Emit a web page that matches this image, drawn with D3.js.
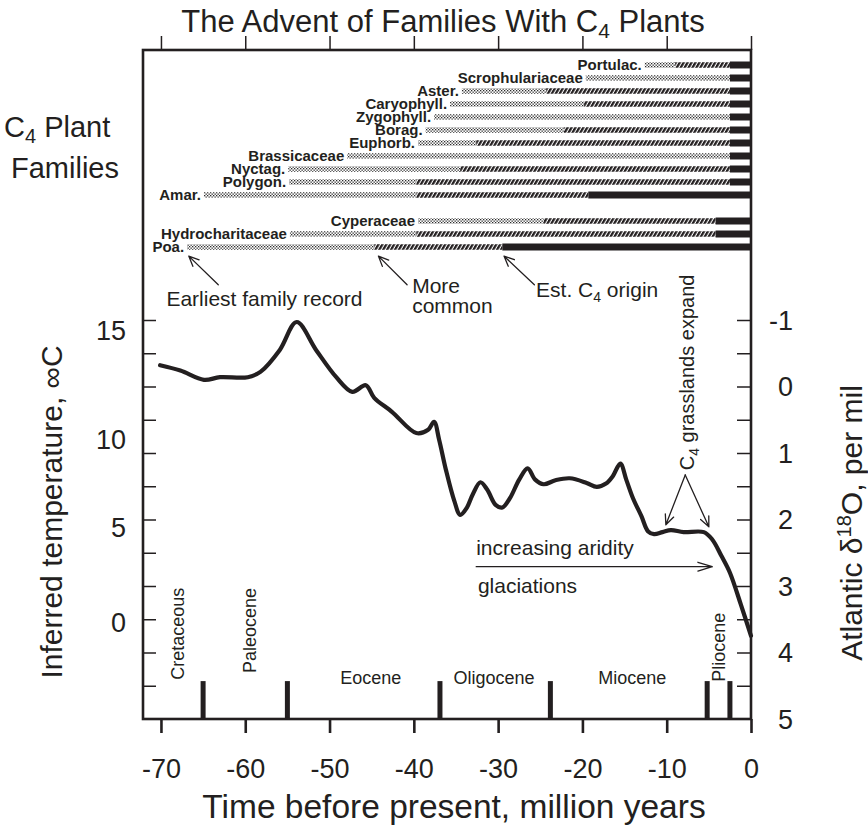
<!DOCTYPE html>
<html><head><meta charset="utf-8">
<script src="https://cdn.jsdelivr.net/npm/d3@7"></script>
<style>
body{margin:0;background:#fff}
svg{display:block}
text{font-family:"Liberation Sans",Arial,Helvetica,sans-serif;fill:#231f20}
</style>
</head><body>
<svg id="chart" width="868" height="825"></svg>
<script>
// ---------------- data ----------------
const families = ["Portulac.","Scrophulariaceae","Aster.","Caryophyll.","Zygophyll.","Borag.","Euphorb.","Brassicaceae","Nyctag.","Polygon.","Amar.","Cyperaceae","Hydrocharitaceae","Poa."];
const familyRow = [0,1,2,3,4,5,6,7,8,9,10,12,13,14];
const earliestRecord = [-12.6,-19.6,-34.3,-35.7,-37.6,-38.6,-39.5,-47.9,-54.9,-54.8,-64.9,-39.5,-54.7,-66.9];
const moreCommon = [-9.0,null,-24.3,-19.8,null,-22.2,-32.6,null,-34.5,-39.7,-39.7,-24.6,-39.7,-44.7];
const c4Origin = [-2.5,-2.5,-2.5,-2.5,-2.5,-2.5,-2.5,-2.5,-2.5,-2.5,-19.3,-4.2,-4.2,-29.5];

const timeMyr = [-70.1,-67.7,-64.9,-63.0,-59.7,-58.2,-55.9,-53.9,-51.6,-49.2,-47.3,-45.7,-44.7,-42.6,-39.7,-38.3,-37.6,-37.0,-36.2,-35.2,-34.5,-33.7,-33.0,-32.1,-31.3,-30.3,-29.5,-28.6,-27.5,-26.5,-25.6,-24.6,-23.2,-21.5,-19.5,-18.3,-17.2,-16.4,-15.5,-14.8,-14.0,-13.0,-12.2,-11.5,-10.5,-9.5,-8.0,-5.6,-4.6,-3.5,-2.5,-1.2,0];
const delta18O = [-0.32,-0.24,-0.10,-0.14,-0.14,-0.22,-0.55,-0.97,-0.55,-0.14,0.08,-0.02,0.17,0.38,0.70,0.65,0.53,0.80,1.25,1.72,1.93,1.82,1.62,1.44,1.55,1.78,1.82,1.68,1.40,1.23,1.40,1.47,1.41,1.38,1.45,1.51,1.46,1.35,1.16,1.40,1.68,1.95,2.18,2.22,2.19,2.16,2.19,2.19,2.30,2.55,2.80,3.28,3.75];

const xTicks = [-70,-60,-50,-40,-30,-20,-10,0];
const deltaTicks = [-1,0,1,2,3,4,5];
const deltaMinorTicks = [-1,-0.5,0,0.5,1,1.5,2,2.5,3,3.5,4,4.5];
const tempLabels = [15,10,5,0];
const tempLabelDelta = [-0.85,0.80,2.11,3.54];

const epochBounds = [-65,-55,-36.9,-23.8,-5.2,-2.5];
const epochNames = ["Cretaceous","Paleocene","Eocene","Oligocene","Miocene","Pliocene"];
const epochLabelT = [-67.3,-58.7,-45.1,-30.5,-14.1,-3.1];
const epochLabelD = [4.41,4.31,4.47,4.47,4.47,4.44];
const epochVertical = [true,true,false,false,false,true];

// ---------------- layout ----------------
const ink = "#231f20";
const pL = 143, pR = 751, pT = 50, pB = 719;
const svg = d3.select("#chart");

const x = d3.scaleLinear().domain([-72.13, 0]).range([pL, pR]);
const y = d3.scaleLinear().domain([-1, 5]).range([320, pB]);
const yRow = d3.scaleLinear().domain([0, 14]).range([65, 247]);

// patterns
const defs = svg.append("defs");
const pd = defs.append("pattern").attr("id","dots").attr("patternUnits","userSpaceOnUse")
  .attr("width",3).attr("height",3);
pd.append("rect").attr("width",3).attr("height",3).attr("fill","#fff");
pd.append("rect").attr("x",0).attr("y",0).attr("width",1.3).attr("height",1.3).attr("fill","#2a2a2a");
pd.append("rect").attr("x",1.5).attr("y",1.5).attr("width",1.3).attr("height",1.3).attr("fill","#2a2a2a");
const ph = defs.append("pattern").attr("id","hatch").attr("patternUnits","userSpaceOnUse")
  .attr("width",3.4).attr("height",6).attr("patternTransform","rotate(30)");
ph.append("rect").attr("width",3.4).attr("height",6).attr("fill","#fff");
ph.append("rect").attr("width",2.3).attr("height",6).attr("fill",ink);

// title
const title = svg.append("text").attr("x", (pL+pR)/2 - 4).attr("y", 32)
  .attr("text-anchor","middle").attr("font-size",31);
title.append("tspan").text("The Advent of Families With C");
title.append("tspan").attr("font-size",21).attr("dy",6).text("4");
title.append("tspan").attr("dy",-6).text(" Plants");

// C4 Plant Families
const cpf = svg.append("text").attr("x",4).attr("y",137).attr("font-size",29);
cpf.append("tspan").text("C");
cpf.append("tspan").attr("font-size",20).attr("dy",6).text("4");
cpf.append("tspan").attr("dy",-6).text(" Plant");
svg.append("text").attr("x",11).attr("y",178).attr("font-size",29).text("Families");

// ---------------- family bars ----------------
const segs = [];
families.forEach((f,i) => {
  const dEnd = moreCommon[i] != null ? moreCommon[i] : c4Origin[i];
  segs.push({row: familyRow[i], a: earliestRecord[i], b: dEnd, fill: "url(#dots)", h: 5.5});
  if (moreCommon[i] != null) segs.push({row: familyRow[i], a: moreCommon[i], b: c4Origin[i], fill: "url(#hatch)", h: 5.5});
  segs.push({row: familyRow[i], a: c4Origin[i], b: 0, fill: ink, h: 7});
});
svg.append("g").selectAll("rect").data(segs).join("rect")
  .attr("x", d => x(d.a)).attr("width", d => x(d.b) - x(d.a))
  .attr("y", d => yRow(d.row) - d.h/2).attr("height", d => d.h)
  .attr("fill", d => d.fill);
svg.append("g").selectAll("text").data(families).join("text")
  .attr("x", (d,i) => x(earliestRecord[i]) - 3)
  .attr("y", (d,i) => yRow(familyRow[i]) + 5)
  .attr("text-anchor","end").attr("font-weight","bold").attr("font-size",15)
  .text(d => d);

// ---------------- arrows helper ----------------
function arrow(g, x1, y1, x2, y2, len, ang, sw) {
  const a = Math.atan2(y2 - y1, x2 - x1);
  let p = `M${x1},${y1}L${x2},${y2}`;
  [-1, 1].forEach(s => {
    const b = a + Math.PI + s * ang;
    p += `M${x2},${y2}L${x2 + len*Math.cos(b)},${y2 + len*Math.sin(b)}`;
  });
  g.append("path").attr("d", p).attr("fill","none").attr("stroke", ink)
    .attr("stroke-width", sw).attr("stroke-linecap","round");
}
const ann = svg.append("g");
// top panel notes (time, row)
const topArrows = [[-63.2,16.9,-66.7,14.7],[-40.8,16.9,-44.2,14.7],[-25.7,16.9,-29.3,14.7]];
topArrows.forEach(a => arrow(ann, x(a[0]), yRow(a[1]), x(a[2]), yRow(a[3]), 11, 0.42, 1.3));
ann.append("text").attr("x", x(-69.35)).attr("y", yRow(18.54)).attr("font-size",21).text("Earliest family record");
ann.append("text").attr("x", x(-40.2)).attr("y", yRow(17.5)).attr("font-size",21).text("More");
ann.append("text").attr("x", x(-40.2)).attr("y", yRow(19.05)).attr("font-size",21).text("common");
const est = ann.append("text").attr("x", x(-25.5)).attr("y", yRow(17.85)).attr("font-size",21);
est.append("tspan").text("Est. C");
est.append("tspan").attr("font-size",14).attr("dy",5).text("4");
est.append("tspan").attr("dy",-5).text(" origin");

// C4 grasslands expand
const gx = x(-6.8), gy = y(1.26);
const ge = ann.append("text").attr("transform",`translate(${gx},${gy}) rotate(-90)`).attr("font-size",20);
ge.append("tspan").text("C");
ge.append("tspan").attr("font-size",14).attr("dy",5).text("4");
ge.append("tspan").attr("dy",-5).text(" grasslands expand");
arrow(ann, x(-7.8), y(1.33), x(-10.1), y(2.08), 11, 0.42, 1.3);
arrow(ann, x(-7.8), y(1.33), x(-5.0), y(2.11), 11, 0.42, 1.3);

// increasing aridity / glaciations
arrow(ann, x(-32.6), y(2.71), x(-4.6), y(2.71), 15, 0.3, 1.3);
ann.append("text").attr("x", x(-32.6)).attr("y", y(2.53)).attr("font-size",21).text("increasing aridity");
ann.append("text").attr("x", x(-32.4)).attr("y", y(3.11)).attr("font-size",21).text("glaciations");

// ---------------- epochs ----------------
svg.append("g").selectAll("line").data(epochBounds).join("line")
  .attr("x1", d => x(d)).attr("x2", d => x(d))
  .attr("y1", y(4.43)).attr("y2", y(5))
  .attr("stroke", ink).attr("stroke-width", 5);
svg.append("g").selectAll("text").data(epochNames).join("text")
  .attr("font-size",18)
  .attr("text-anchor",(d,i) => epochVertical[i] ? "start" : "middle")
  .attr("transform",(d,i) => `translate(${x(epochLabelT[i])},${y(epochLabelD[i])})` + (epochVertical[i] ? " rotate(-90)" : ""))
  .text(d => d);

// ---------------- temperature / d18O curve ----------------
const pts = timeMyr.map((t,i) => [t, delta18O[i]]);
svg.append("path").datum(pts)
  .attr("d", d3.line().x(d => x(d[0])).y(d => y(d[1])).curve(d3.curveCatmullRom.alpha(0.5)))
  .attr("fill","none").attr("stroke", ink).attr("stroke-width",4.2)
  .attr("stroke-linejoin","round").attr("stroke-linecap","round");

// ---------------- axes ----------------
function styleAxis(g, sw) {
  g.select(".domain").remove();
  g.selectAll(".tick line").attr("stroke", ink).attr("stroke-width", sw);
}
const gb = svg.append("g").attr("transform",`translate(0,${pB})`)
  .call(d3.axisBottom(x).tickValues(xTicks).tickSize(14).tickFormat(d => String(d)));
styleAxis(gb, 2.6);
gb.selectAll(".tick text").attr("y", 59).attr("dy", null).attr("font-size",27);
const gt = svg.append("g").attr("transform",`translate(0,${pT})`)
  .call(d3.axisTop(x).tickValues(xTicks).tickSize(14).tickFormat(""));
styleAxis(gt, 1.5);
const gl = svg.append("g").attr("transform",`translate(${pL},0)`)
  .call(d3.axisRight(y).tickValues(deltaMinorTicks).tickSize(13).tickFormat(""));
styleAxis(gl, 1.5);
const gr = svg.append("g").attr("transform",`translate(${pR},0)`)
  .call(d3.axisLeft(y).tickValues(deltaMinorTicks).tickSize(14).tickFormat(""));
styleAxis(gr, 1.5);

// frame
svg.append("rect").attr("x", pL).attr("y", pT).attr("width", pR-pL).attr("height", pB-pT)
  .attr("fill","none").attr("stroke", ink).attr("stroke-width", 2.6);

// right labels
svg.append("g").selectAll("text").data(deltaTicks).join("text")
  .attr("x", pR + 42).attr("y", d => y(d) + 9.7)
  .attr("text-anchor","end").attr("font-size",27).text(d => String(d));
// left temperature labels
svg.append("g").selectAll("text").data(tempLabels).join("text")
  .attr("x", 126).attr("y", (d,i) => y(tempLabelDelta[i]) + 9.7)
  .attr("text-anchor","end").attr("font-size",27).text(d => String(d));

// axis titles
svg.append("text").attr("x", (pL+pR)/2 + 7).attr("y", 818).attr("text-anchor","middle")
  .attr("font-size",33.5).text("Time before present, million years");
svg.append("text").attr("transform",`translate(62,512) rotate(-90)`).attr("text-anchor","middle")
  .attr("font-size",30).text("Inferred temperature, \u221EC");
const rt = svg.append("text").attr("transform",`translate(862,523) rotate(-90)`).attr("text-anchor","middle")
  .attr("font-size",30);
rt.append("tspan").text("Atlantic \u03B4");
rt.append("tspan").attr("font-size",20).attr("dy",-11).text("18");
rt.append("tspan").attr("dy",11).text("O, per mil");
</script>
</body></html>
